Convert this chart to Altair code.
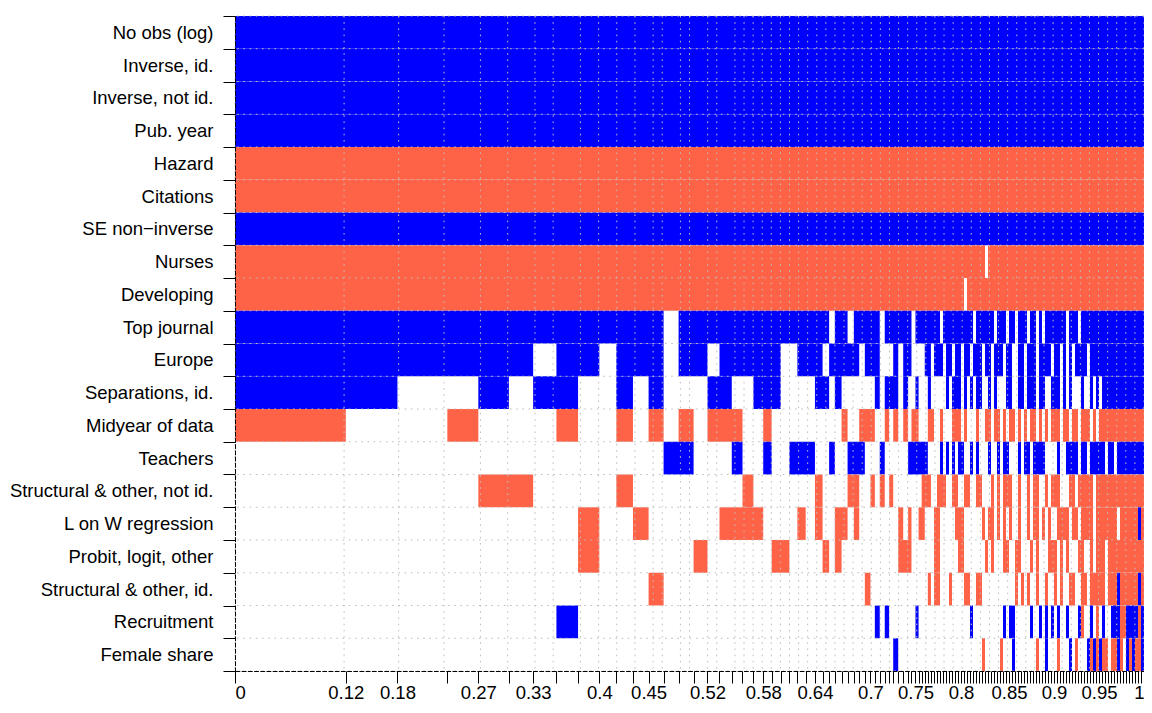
import json
import altair as alt
import pandas as pd

variables = [
    "No obs (log)", "Inverse, id.", "Inverse, not id.", "Pub. year", "Hazard",
    "Citations", "SE non\u2212inverse", "Nurses", "Developing", "Top journal",
    "Europe", "Separations, id.", "Midyear of data", "Teachers",
    "Structural & other, not id.", "L on W regression", "Probit, logit, other",
    "Structural & other, id.", "Recruitment", "Female share",
]

# posterior model probabilities (column widths), best models first
pmp_models = [
    0.1219, 0.0568, 0.0549, 0.0341, 0.0336, 0.0267, 0.0256, 0.0238, 0.0234, 0.0187,
    0.0183, 0.0172, 0.0165, 0.0165, 0.0165, 0.0153, 0.0132, 0.0135, 0.0118, 0.0120,
    0.0108, 0.0093, 0.0099, 0.0096, 0.0088, 0.0091, 0.0102, 0.0084, 0.0072, 0.0063,
    0.0074, 0.0066, 0.0069, 0.0059, 0.0062, 0.0062, 0.0048, 0.0054, 0.0055, 0.0048,
    0.0045, 0.0055, 0.0055, 0.0054, 0.0037, 0.0044,
]
pmp_tail = [
    0.0034, 0.0034, 0.0034, 0.0034, 0.0034, 0.0034, 0.0033, 0.0033, 0.0033, 0.0033,
    0.0033, 0.0033, 0.0033, 0.0033, 0.0033, 0.0033, 0.0033, 0.0033, 0.0033, 0.0033,
    0.0033, 0.0033, 0.0033, 0.0033, 0.0033, 0.0033, 0.0033, 0.0033, 0.0033, 0.0033,
    0.0033, 0.0033, 0.0033, 0.0033, 0.0033, 0.0033, 0.0033, 0.0033, 0.0033, 0.0033,
    0.0033, 0.0033, 0.0033, 0.0033, 0.0033, 0.0033, 0.0033, 0.0033, 0.0033, 0.0033,
    0.0033, 0.0033, 0.0033, 0.0033, 0.0033, 0.0033, 0.0033, 0.0033, 0.0033, 0.0033,
    0.0033, 0.0033, 0.0033, 0.0033, 0.0033, 0.0033, 0.0033, 0.0033, 0.0033, 0.0033,
    0.0033, 0.0033, 0.0033, 0.0033, 0.0033, 0.0033,
]

# sign of each variable in each model: B = positive, R = negative, . = not included
inclusion = [
    "B" * 122,
    "B" * 122,
    "B" * 122,
    "B" * 122,
    "R" * 122,
    "R" * 122,
    "B" * 122,
    "R" * 69 + "." + "R" * 52,
    "R" * 62 + "." + "R" * 59,
    # Top journal
    "B" * 13 + "." + "B" * 15 + "." + "B" * 2 + "." + "B" * 5 + "." + "B" * 6 + "."
    + "BBBBBBBB.BBBBBBBBBB.BBBBBB.BBB.BB.BBB.B"
    + "B.B.BBBBBBB.BBB." + "B" * 21,
    # Europe
    "BBBBBB.BB.BBB.BB.BBBBBB..BBB.BBBBB.BBB...B.BB."
    + "...BB.BBB.BB.BB.BB.BBB.BB.BBB.BB..BB.BB"
    + "B.BBBB.BB.B.B.BBBB." + "B" * 18,
    # Separations, id.
    "BB..B.BB..B.B...BB..BBB....BB.B......B.BBB.B.."
    + "B...B.....B.BBB.B.B.BB..B.B...BB..BB.BB"
    + "B.BB..BBB.B.B...B..B.B." + "B" * 14,
    # Midyear of data
    "R..R...R..R.R.R.RRR..R.........R..RRR..R.R.R.R"
    + "R...RR..R...RRR.R...R..RR.RR.R.RR.R.R.R"
    + "R.R.R.RRR.RR.RR.RRR.R." + "R" * 15,
    # Teachers
    "." * 13 + "BB...B..B..BBB..B..BBB...B.....BB"
    + "BBBB....B.B.B.BB..B.B...B..B.BB...B.BB."
    + "BBBB....B..BBBB.BB.BBBBB.BB." + "B" * 9,
    # Structural & other, not id.
    "....RR....R........R.......R....RR..R.R.R....."
    + "..RRR..RRR..RR..RR..RR...R.R.RRR..R..R."
    + "RR..R.RRR...RR.RRRRR." + "R" * 16,
    # L on W regression
    "........R..R.....RRRR....R.R..RR.R........R.R."
    + ".RR...RR.....RRR......R.RR.R.R.R..R..R."
    + "RR.R.R..RRRR.RR.RRRR." + "RRRRRRR.RRRRRRBR",
    # Probit, logit, other
    "........R......R......RR....R.R...........RRR."
    + "......RR......RR.......R.R...RR..RR...R"
    + ".R...RRR.R.R...RR..R.RRR." + "R" * 12,
    # Structural & other, id.
    "." * 12 + "R" + "." * 22 + "R" + "." * 10
    + "....R.RR...R....RR..RR...........R.R.R."
    + ".R..R..R.R..RR..RR.RRRRR.RRRBRRRRRRBR",
    # Recruitment
    "." * 7 + "B" + "." * 29 + "B" + "." + "B" + "." * 6
    + "B" + "." * 17 + "B" + "." * 10 + "B" + "." + "BB" + "." * 5 + "B"
    + "..B.B.B.B..B...BR..B.R.B..BBBRRBBBBRB",
    # Female share
    "." * 41 + "B" + "." * 4
    + "." * 22 + "R" + "." * 5 + "R" + "." * 3 + "B" + "." * 6
    + ".R..B...R...B.R...BRBRBRR.RRBR.BRBRRB",
]

x_tick_labels = ["0", "0.12", "0.18", "0.27", "0.33", "0.4", "0.45", "0.52", "0.58",
                 "0.64", "0.7", "0.75", "0.8", "0.85", "0.9", "0.95", "1"]

# ---- build tables ----
pmp = pmp_models + pmp_tail
N = len(pmp)
cum = [0.0]
for w in pmp:
    cum.append(cum[-1] + w)
cum = [round(c, 5) for c in cum]
total = cum[-1]

rows = []
for i, (var, s) in enumerate(zip(variables, inclusion)):
    s = s.ljust(N, ".")[:N]
    j = 0
    while j < N:
        c = s[j]
        k = j
        while k < N and s[k] == c:
            k += 1
        if c != ".":
            rows.append({"var": var, "r0": i, "r1": i + 1, "x0": cum[j], "x1": cum[k], "sign": c})
        j = k
cells = pd.DataFrame(rows)

label_pos = [min(cum, key=lambda c: abs(c - float(t))) for t in x_tick_labels]
pos_str = [f"{p:.5f}" for p in label_pos]
x_label_expr = (json.dumps(x_tick_labels) + "[indexof(" + json.dumps(pos_str)
                + ", format(datum.value, '.5f'))]")
y_label_expr = json.dumps(variables, ensure_ascii=False) + "[floor(datum.value)]"

grid_x = sorted(set(round(c, 2) for c in cum))
grid_x = [g for g in grid_x if g <= total]
grid_y = list(range(len(variables) + 1))
row_centers = [i + 0.5 for i in range(len(variables))]

FONT = "Liberation Sans"
FS = 18.5
xs = alt.Scale(domain=[0, total], nice=False, zero=False)
ys = alt.Scale(domain=[0, len(variables)], reverse=True, nice=False, zero=False)

rect = alt.Chart(cells).mark_rect(strokeWidth=0).encode(
    x=alt.X("x0:Q", scale=xs, axis=alt.Axis(
        values=cum, labels=False, tickSize=12, tickColor="black", tickWidth=1,
        domainColor="black", domainWidth=1, domainDash=[4.8, 1.4], grid=False,
        title=None, orient="bottom", zindex=1)),
    x2="x1:Q",
    y=alt.Y("r0:Q", scale=ys, axis=alt.Axis(
        values=grid_y, labels=False, tickSize=12, tickColor="black", tickWidth=1,
        domainColor="black", domainWidth=1, domainDash=[4.8, 1.4], grid=False,
        title=None, orient="left", zindex=1)),
    y2="r1:Q",
    color=alt.Color("sign:N", scale=alt.Scale(domain=["B", "R"], range=["#0000FF", "#FF6347"]),
                    legend=None),
)

vgrid = alt.Chart(pd.DataFrame({"gx": grid_x})).mark_rule(
    color="#BEBEBE", strokeWidth=1, strokeDash=[1.6, 4.6]
).encode(
    x=alt.X("gx:Q", scale=xs, axis=alt.Axis(
        values=label_pos, labelExpr=x_label_expr, ticks=False, tickSize=0, domain=False,
        labelPadding=12, labelFontSize=FS, labelFont=FONT, labelColor="black",
        labelOverlap=False, labelFlush=4, labelLimit=400, grid=False, title=None,
        orient="bottom")),
)

hgrid = alt.Chart(pd.DataFrame({"gy": grid_y})).mark_rule(
    color="#BEBEBE", strokeWidth=1, strokeDash=[1.6, 4.6]
).encode(
    y=alt.Y("gy:Q", scale=ys, axis=alt.Axis(
        values=row_centers, labelExpr=y_label_expr, ticks=False, tickSize=0, domain=False,
        labelPadding=22, labelFontSize=FS, labelFont=FONT, labelColor="black",
        labelOverlap=False, labelFlush=False, labelLimit=400, grid=False, title=None,
        orient="left")),
)

chart = (
    alt.layer(rect, vgrid, hgrid)
    .resolve_axis(x="independent", y="independent")
    .properties(
        width=909, height=655,
        autosize=alt.AutoSizeParams(type="none"),
        padding={"left": 227, "top": 8, "right": 0, "bottom": 34},
        background="white",
    )
    .configure_view(stroke=None)
)

chart.save("out.html", embed_options={"renderer": "svg", "actions": False})
